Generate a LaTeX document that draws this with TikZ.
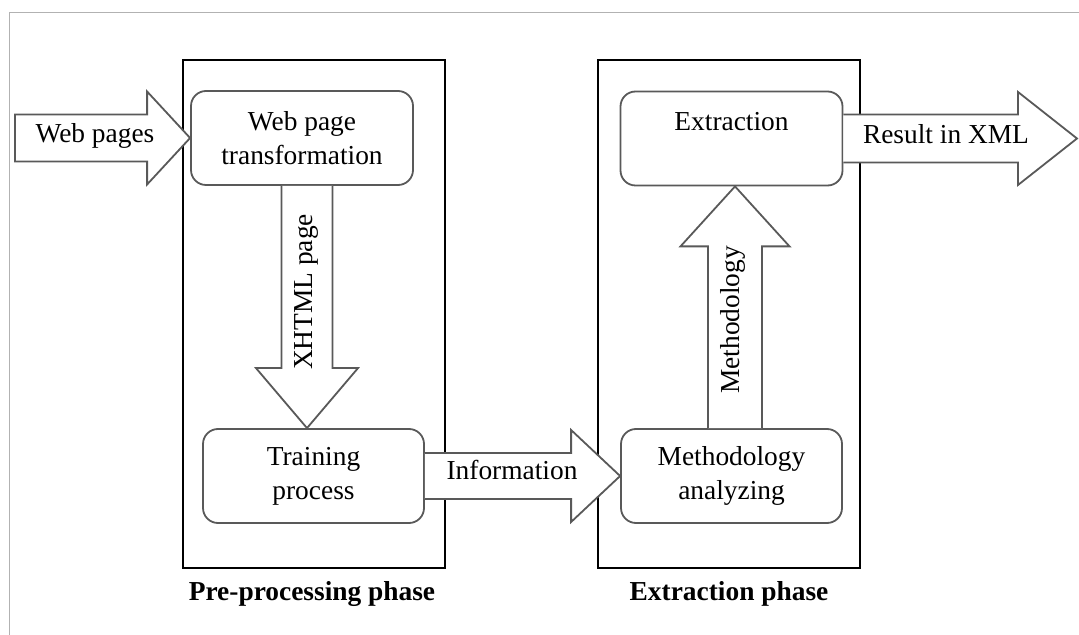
\documentclass[tikz,border=0pt]{standalone}
\usepackage{fontspec}
\setmainfont{Liberation Serif}
\usetikzlibrary{calc}

\begin{document}
\begin{tikzpicture}[x=0.5pt, y=-0.5pt, font=\fontsize{13.7}{17}\selectfont, line join=miter,
		phase/.style={draw=black, line width=0.75pt, minimum width=131pt, minimum height=254pt, inner sep=0pt},
		stage/.style={draw=black!65, line width=0.9pt, rounded corners=7.5pt, fill=white, align=center, minimum width=111pt, minimum height=47pt, inner sep=0pt},
		blockarrow/.style={draw=black!65, line width=0.9pt, fill=white},
		lbl/.style={inner sep=0pt},
		phaselbl/.style={inner sep=0pt, font=\fontsize{13.7}{17}\selectfont\bfseries}]
		\useasboundingbox (0,0) rectangle (1079,635);
		\draw[black!30, line width=0.9pt] (9.5,635) -- (9.5,12.5) -- (1079,12.5);
		% phases
		\node[phase] (pre) at (314,314) {};
		\node[phase] (ext) at (729,314) {};
		\node[phaselbl] (prelbl) at (312,594) {Pre-processing phase};
		\node[phaselbl] (extlbl) at (729,594) {Extraction phase};
		% stages
		\node[stage] (trans) at (302,138) {Web page\\transformation};
		\node[stage] (extr) at (731.5,138.5) {Extraction\\\phantom{X}};
		\node[stage, minimum width=110.5pt] (train) at (313.5,476) {Training\\process};
		\node[stage, minimum width=110.5pt] (meth) at (731.5,476) {Methodology\\analyzing};
		% block arrows
		\coordinate (webin) at (15,138);
		\draw[blockarrow] ($(webin)+(0,-23.5)$) -- ($(trans.west)+(-43,-23.5)$) -- ($(trans.west)+(-43,-46.5)$) -- (trans.west) -- ($(trans.west)+(-43,46.5)$) -- ($(trans.west)+(-43,23.5)$) -- ($(webin)+(0,23.5)$) -- cycle;
		\coordinate (xmlout) at (1077,138.5);
		\draw[blockarrow] ($(extr.east)+(0,-24)$) -- ($(xmlout)+(-59,-24)$) -- ($(xmlout)+(-59,-46.5)$) -- (xmlout) -- ($(xmlout)+(-59,46.5)$) -- ($(xmlout)+(-59,24)$) -- ($(extr.east)+(0,24)$);
		\coordinate (xtop) at ($(trans.south)+(5,0)$);
		\coordinate (xtip) at (xtop |- train.north);
		\draw[blockarrow] ($(xtop)+(-25.5,0)$) -- ($(xtip)+(-25.5,-60)$) -- ($(xtip)+(-51,-60)$) -- (xtip) -- ($(xtip)+(51,-60)$) -- ($(xtip)+(25.5,-60)$) -- ($(xtop)+(25.5,0)$);
		\draw[blockarrow] ($(train.east)+(0,-23)$) -- ($(meth.west)+(-49,-23)$) -- ($(meth.west)+(-49,-46)$) -- (meth.west) -- ($(meth.west)+(-49,46)$) -- ($(meth.west)+(-49,23)$) -- ($(train.east)+(0,23)$);
		\coordinate (mbot) at ($(meth.north)+(3.5,0)$);
		\coordinate (mtip) at (mbot |- extr.south);
		\draw[blockarrow] ($(mbot)+(-27,0)$) -- ($(mtip)+(-27,60)$) -- ($(mtip)+(-54.5,60)$) -- (mtip) -- ($(mtip)+(54.5,60)$) -- ($(mtip)+(27,60)$) -- ($(mbot)+(27,0)$);
		% arrow texts
		\node[lbl] (weblbl) at (95,136) {Web pages};
		\node[lbl] (xmllbl) at (946,134) {Result in XML};
		\node[lbl] (infolbl) at (512,470) {Information};
		\node[lbl, rotate=90] (xhtmllbl) at (306,292) {XHTML page};
		\node[lbl, rotate=90] (methlbl) at (733,320) {Methodology};
	\end{tikzpicture}
\end{document}
